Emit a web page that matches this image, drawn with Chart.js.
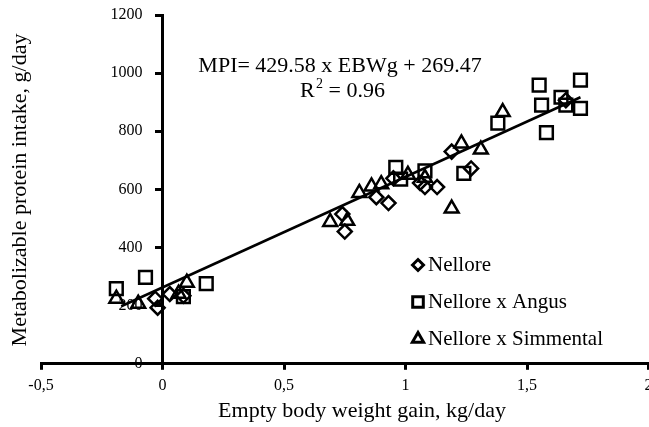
<!DOCTYPE html>
<html>
<head>
<meta charset="utf-8">
<script src="https://cdn.jsdelivr.net/npm/chart.js@4.4.1/dist/chart.umd.min.js"></script>
<style>
  html, body { margin: 0; padding: 0; background: #fff; overflow: hidden; }
  #box { width: 649px; height: 427px; overflow: hidden; }
</style>
</head>
<body>
<div id="box"><canvas id="mpiChart" width="660" height="427"></canvas></div>
<script>
// values: x = EBWg (kg/day), y = MPI (g/day)
const nelloreX = [-0.03, -0.02, 0.03, 0.086, 0.74, 0.75, 0.88, 0.93, 0.95, 1.06, 1.08, 1.13, 1.19, 1.27, 1.66];
const nelloreY = [224, 193, 240, 234, 515, 455, 573, 553, 638, 622, 608, 608, 730, 672, 907];

const angusX = [-0.19, -0.07, 0.086, 0.18, 0.96, 0.98, 1.08, 1.24, 1.38, 1.55, 1.56, 1.64, 1.66, 1.72, 1.72, 1.58];
const angusY = [259, 297, 231, 276, 676, 635, 664, 655, 828, 959, 890, 917, 890, 976, 879, 795];

const simX = [-0.19, -0.10, 0.066, 0.10, 0.69, 0.76, 0.81, 0.86, 0.90, 1.01, 1.08, 1.19, 1.23, 1.31, 1.40];
const simY = [224, 207, 241, 279, 488, 492, 588, 610, 618, 650, 640, 534, 758, 737, 866];

// fitted line as drawn on the figure
const fitX = [-0.17, 1.72];
const fitY = [198, 917];

const xTicks = [-0.5, 0, 0.5, 1, 1.5, 2];
const yTicks = [0, 200, 400, 600, 800, 1000, 1200];

function toPoints(xs, ys) {
  return xs.map((x, i) => ({ x: x, y: ys[i] }));
}

const serif = '"Liberation Serif", "Times New Roman", serif';
Chart.defaults.font.family = serif;
Chart.defaults.color = '#000';

// equation, axis titles and legend text
const textPlugin = {
  id: 'textPlugin',
  afterDraw(chart) {
    const ctx = chart.ctx;
    ctx.save();
    ctx.fillStyle = '#000';
    ctx.font = '22px ' + serif;
    ctx.textBaseline = 'middle';
    ctx.textAlign = 'center';
    ctx.fillText('MPI= 429.58 x EBWg + 269.47', 340, 66);
    // R squared with raised 2
    ctx.textAlign = 'left';
    ctx.fillText('R', 300, 91);
    ctx.font = '14px ' + serif;
    ctx.fillText('2', 316, 84);
    ctx.font = '22px ' + serif;
    ctx.fillText(' = 0.96', 323, 91);

    // x title
    ctx.textAlign = 'center';
    ctx.fillText('Empty body weight gain, kg/day', 362, 411);
    // y title
    ctx.save();
    ctx.translate(20, 190);
    ctx.rotate(-Math.PI / 2);
    ctx.fillText('Metabolizable protein intake, g/day', 0, 0);
    ctx.restore();

    // legend
    const rows = [265, 302, 339];
    ctx.font = '21px ' + serif;
    chart.data.datasets.filter(d => d.showInLegend).forEach((d, i) => {
      ctx.lineWidth = 3;
      ctx.strokeStyle = '#000';
      ctx.fillStyle = '#fff';
      Chart.helpers.drawPoint(ctx, { pointStyle: d.pointStyle, radius: d.legendRadius, borderWidth: 3 }, 418, rows[i]);
      ctx.fillStyle = '#000';
      ctx.textAlign = 'left';
      ctx.fillText(d.label, 428, rows[i]);
    });
    ctx.restore();
  }
};

const ctx = document.getElementById('mpiChart').getContext('2d');
const mpiChart = new Chart(ctx, {
  type: 'scatter',
  data: {
    datasets: [
      {
        label: 'Nellore',
        data: toPoints(nelloreX, nelloreY),
        pointStyle: 'rectRot',
        pointRadius: 7,
        legendRadius: 5.5,
        borderColor: '#000',
        backgroundColor: 'rgba(0,0,0,0)',
        borderWidth: 2.5,
        showInLegend: true
      },
      {
        label: 'Nellore x Angus',
        data: toPoints(angusX, angusY),
        pointStyle: 'rect',
        pointRadius: 9,
        legendRadius: 7.5,
        borderColor: '#000',
        backgroundColor: 'rgba(0,0,0,0)',
        borderWidth: 2.5,
        showInLegend: true
      },
      {
        label: 'Nellore x Simmental',
        data: toPoints(simX, simY),
        pointStyle: 'triangle',
        pointRadius: 8,
        legendRadius: 6.5,
        borderColor: '#000',
        backgroundColor: 'rgba(0,0,0,0)',
        borderWidth: 2.5,
        showInLegend: true
      },
      {
        label: 'fit',
        type: 'line',
        data: toPoints(fitX, fitY),
        borderColor: '#000',
        borderWidth: 2.5,
        pointRadius: 0,
        fill: false
      }
    ]
  },
  options: {
    responsive: false,
    animation: false,
    layout: { padding: { left: 41, right: 0, top: 15, bottom: 26 } },
    plugins: {
      legend: { display: false },
      tooltip: { enabled: false }
    },
    scales: {
      x: {
        type: 'linear',
        min: -0.5,
        max: 2,
        afterBuildTicks(scale) { scale.ticks = xTicks.map(v => ({ value: v })); },
        ticks: {
          font: { size: 16 },
          padding: 6,
          callback: v => String(v).replace('.', ',')
        },
        grid: { drawOnChartArea: false, color: '#000', lineWidth: 3, tickLength: 6 },
        border: { color: '#000', width: 3 }
      },
      y: {
        type: 'linear',
        position: { x: 0 },
        min: 0,
        max: 1200,
        afterBuildTicks(scale) { scale.ticks = yTicks.map(v => ({ value: v })); },
        ticks: {
          font: { size: 16 },
          callback: v => v + '\u2002\u2002 '
        },
        grid: { drawOnChartArea: false, color: '#000', lineWidth: 3, tickLength: 6 },
        border: { color: '#000', width: 3 }
      }
    }
  },
  plugins: [textPlugin]
});
</script>
</body>
</html>
